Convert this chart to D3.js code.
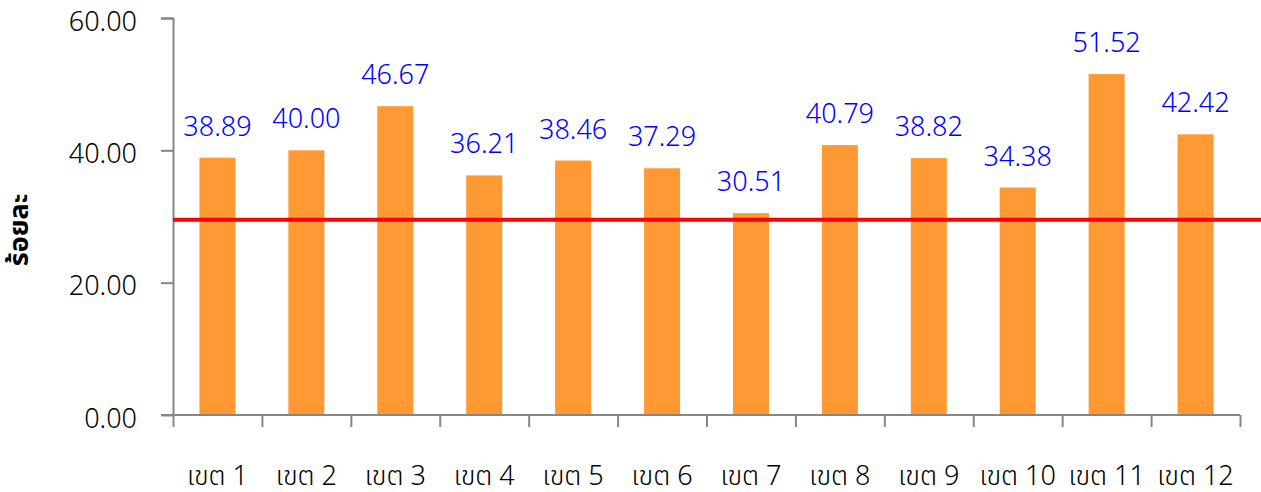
<!DOCTYPE html>
<html>
<head>
<meta charset="utf-8">
<script src="https://cdn.jsdelivr.net/npm/d3@7"></script>
<style>
  body { margin: 0; background: #fff; }
  svg { display: block; }
</style>
</head>
<body>
<script>
// data
var regions = ['เขต 1', 'เขต 2', 'เขต 3', 'เขต 4', 'เขต 5', 'เขต 6', 'เขต 7', 'เขต 8', 'เขต 9', 'เขต 10', 'เขต 11', 'เขต 12']
var percents = [38.89, 40.00, 46.67, 36.21, 38.46, 37.29, 30.51, 40.79, 38.82, 34.38, 51.52, 42.42]
var yTicks = [0, 20, 40, 60]
var targetLine = 29.5
var yTitle = 'ร้อยละ'

var W = 1261, H = 492
var margin = { top: 18, right: 21, bottom: 77, left: 173 }
var width = W - margin.left - margin.right
var height = H - margin.top - margin.bottom
var font = '"Noto Sans", "Noto Sans Thai", "Open Sans", sans-serif'

var svg = d3.select('body').append('svg')
  .attr('width', W)
  .attr('height', H)

var g = svg.append('g')
  .attr('transform', 'translate(' + margin.left + ',' + margin.top + ')')

var x = d3.scaleBand()
  .domain(regions)
  .range([0, width])
  .paddingInner(0.595)
  .paddingOuter(0.2975)

var xAxisScale = d3.scaleLinear()
  .domain([0, regions.length])
  .range([0, width])

var y = d3.scaleLinear()
  .domain([0, 60])
  .range([height, 0])

// bars
g.selectAll('rect.bar')
  .data(percents)
  .enter()
    .append('rect')
    .attr('class', 'bar')
    .attr('x', function(d, i) { return x(regions[i]) })
    .attr('y', function(d) { return y(d) })
    .attr('width', x.bandwidth())
    .attr('height', function(d) { return height - y(d) })
    .attr('fill', '#ff9933')

// y axis
var yAxis = d3.axisLeft(y)
  .tickValues(yTicks)
  .tickFormat(d3.format('.2f'))
  .tickSize(12)
  .tickPadding(24)

var yG = g.append('g').call(yAxis)
yG.select('.domain').attr('stroke', '#868686').attr('stroke-width', 2)
  .attr('d', 'M-12,0.5H0.5V' + height + 'H-12')
yG.selectAll('.tick line').attr('stroke', '#868686').attr('stroke-width', 2)
yG.selectAll('.tick text')
  .attr('dy', '0.45em')
  .attr('font-family', font)
  .attr('font-size', 27)
  .attr('font-weight', 300)
  .attr('fill', '#000')

// x axis (ticks at category boundaries)
var xAxis = d3.axisBottom(xAxisScale)
  .tickValues(d3.range(regions.length + 1))
  .tickSize(12)
  .tickFormat('')

var xG = g.append('g')
  .attr('transform', 'translate(0,' + height + ')')
  .call(xAxis)
xG.select('.domain').attr('stroke', '#868686').attr('stroke-width', 2)
  .attr('d', 'M0,0H' + width)
xG.selectAll('.tick line').attr('stroke', '#868686').attr('stroke-width', 2)

g.selectAll('text.cat')
  .data(regions)
  .enter()
    .append('text')
    .attr('class', 'cat')
    .attr('x', function(d) { return x(d) + x.bandwidth() / 2 })
    .attr('y', height + 70)
    .attr('text-anchor', 'middle')
    .attr('font-family', font)
    .attr('font-size', 27)
    .attr('font-weight', 300)
    .attr('fill', '#000')
    .text(function(d) { return d })

// target line
g.append('line')
  .attr('x1', 0)
  .attr('x2', W - margin.left)
  .attr('y1', y(targetLine))
  .attr('y2', y(targetLine))
  .attr('stroke', '#ff0000')
  .attr('stroke-width', 4)

// value labels
g.selectAll('text.val')
  .data(percents)
  .enter()
    .append('text')
    .attr('class', 'val')
    .attr('x', function(d, i) { return x(regions[i]) + x.bandwidth() / 2 })
    .attr('y', function(d) { return y(d) - 22 })
    .attr('text-anchor', 'middle')
    .attr('font-family', font)
    .attr('font-size', 27)
    .attr('font-weight', 300)
    .attr('fill', '#0000ff')
    .text(function(d) { return d.toFixed(2) })

// y title
svg.append('text')
  .attr('transform', 'translate(28,230) rotate(-90)')
  .attr('text-anchor', 'middle')
  .attr('font-family', font)
  .attr('font-size', 27)
  .attr('font-weight', 'bold')
  .attr('fill', '#000')
  .text(yTitle)
</script>
</body>
</html>
